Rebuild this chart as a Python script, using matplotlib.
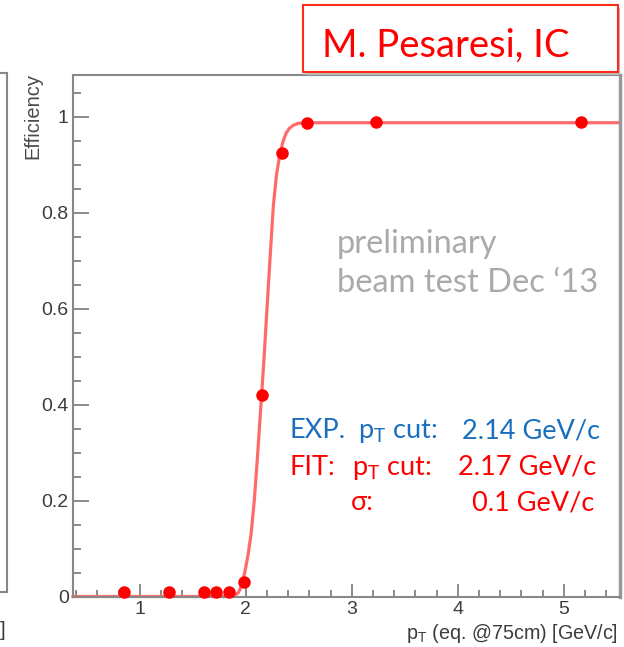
import matplotlib
matplotlib.use("Agg")
import matplotlib.pyplot as plt
from matplotlib.patches import Rectangle
from matplotlib.ticker import MultipleLocator

# ---- data ----
pt_points = [0.85, 1.28, 1.61, 1.72, 1.84, 1.98, 2.15, 2.34, 2.58, 3.23, 5.16]
eff_points = [0.01, 0.01, 0.01, 0.01, 0.01, 0.03, 0.42, 0.925, 0.988, 0.99, 0.99]

fit_x = [0.37, 1.85, 1.90, 1.93, 1.96, 1.99, 2.02, 2.05, 2.08, 2.11, 2.14, 2.17,
         2.20, 2.23, 2.26, 2.29, 2.32, 2.35, 2.38, 2.41, 2.45, 2.50, 2.58, 5.53]
fit_y = [0.0, 0.0, 0.003, 0.008, 0.022, 0.05, 0.085, 0.13, 0.20, 0.29, 0.39, 0.49,
         0.60, 0.71, 0.815, 0.88, 0.92, 0.948, 0.966, 0.976, 0.983, 0.987, 0.988, 0.988]

x_ticks = [1, 2, 3, 4, 5]
y_ticks = [0, 0.2, 0.4, 0.6, 0.8, 1]
y_tick_labels = ["0", "0.2", "0.4", "0.6", "0.8", "1"]

plt.rcParams["mathtext.fontset"] = "custom"
plt.rcParams["mathtext.rm"] = "Lato"

W, H = 624, 647
fig = plt.figure(figsize=(W / 100, H / 100), dpi=100)

def fx(px):
    return px / W

def fy(py):
    return 1 - py / H

ax = fig.add_axes([fx(73), fy(596.5), fx(620) - fx(73), fy(75) - fy(596.5)])
ax.set_xlim(0.37, 5.53)
ax.set_ylim(0, 1.0875)

ax.plot(fit_x, fit_y, color=(1.0, 0.42, 0.42), lw=2.3, zorder=2, clip_on=False,
        solid_joinstyle="round")
ax.plot(pt_points, eff_points, "o", color="#ff0000", ms=8, zorder=3, clip_on=False)

ax.set_xticks(x_ticks)
ax.set_xticklabels([str(t) for t in x_ticks])
ax.set_yticks(y_ticks)
ax.set_yticklabels(y_tick_labels)
ax.xaxis.set_minor_locator(MultipleLocator(0.2))
ax.yaxis.set_minor_locator(MultipleLocator(0.05))

tick_color = "#777777"
lab_color = "#3c3c3c"
ax.tick_params(axis="x", which="major", direction="in", length=9.5, width=1.2,
               color=tick_color, pad=3.5, labelsize=14, labelcolor=lab_color)
ax.tick_params(axis="x", which="minor", direction="in", length=5, width=1.2,
               color=tick_color)
ax.tick_params(axis="y", which="major", direction="in", length=11.5, width=1.2,
               color=tick_color, pad=3, labelsize=14, labelcolor=lab_color)
ax.tick_params(axis="y", which="minor", direction="in", length=5.8, width=1.2,
               color=tick_color)
for lab in ax.get_xticklabels() + ax.get_yticklabels():
    lab.set_family("Liberation Sans")
for s in ax.spines.values():
    s.set_color("#888888")
    s.set_linewidth(1.5)
ax.spines["right"].set_linewidth(2.5)
ax.spines["right"].set_color("#999999")

fig.text(fx(33), fy(73), "Efficiency", rotation=90, ha="center", va="top",
         family="Liberation Sans", fontsize=14.5, color="#4a4a4a")
fig.text(fx(618), fy(639), r"p$_\mathregular{T}$ (eq. @75cm) [GeV/c]", ha="right",
         va="baseline", family="Liberation Sans", fontsize=14.2, color=lab_color)

# left neighbour panel remnant
fig.patches.append(Rectangle((fx(-10), fy(592)), fx(17), fy(73) - fy(592),
                             transform=fig.transFigure, fill=False,
                             edgecolor="#888888", lw=1.5))
fig.text(fx(0), fy(636), "]", family="Liberation Sans", fontsize=14.5,
         color=lab_color, va="baseline")

# author box
fig.patches.append(Rectangle((fx(305), fy(75)), fx(315), fy(5) - fy(72),
                             transform=fig.transFigure, facecolor="#bbbbbb",
                             edgecolor="none", zorder=5))
fig.patches.append(Rectangle((fx(303), fy(72)), fx(315), fy(5) - fy(72),
                             transform=fig.transFigure, facecolor="white",
                             edgecolor="#ff2a1a", lw=1.5, zorder=6))
fig.text(fx(322), fy(57), "M. Pesaresi, IC", family="Lato", fontsize=27.5,
         color="#ff0000", va="baseline", zorder=7)

# annotations
grey = "#aaaaaa"
fig.text(fx(337), fy(253), "preliminary", family="Lato", fontsize=23.5,
         color=grey, va="baseline")
fig.text(fx(337), fy(292), "beam test Dec \u201813", family="Lato", fontsize=23.5,
         color=grey, va="baseline")

blue = "#1a6fbd"
red = "#ff0000"
fs = 19.5
fig.text(fx(289), fy(438), "EXP.", family="Lato", fontsize=fs, color=blue, va="baseline")
fig.text(fx(358), fy(438), r"p$_\mathregular{T}$ cut:", family="Lato", fontsize=fs, color=blue, va="baseline")
fig.text(fx(600), fy(438), "2.14 GeV/c", family="Lato", fontsize=fs, color=blue, va="baseline", ha="right")
fig.text(fx(289), fy(475), "FIT:", family="Lato", fontsize=fs, color=red, va="baseline")
fig.text(fx(352), fy(475), r"p$_\mathregular{T}$ cut:", family="Lato", fontsize=fs, color=red, va="baseline")
fig.text(fx(596), fy(475), "2.17 GeV/c", family="Lato", fontsize=fs, color=red, va="baseline", ha="right")
fig.text(fx(351), fy(510), "\u03c3:", family=["Lato", "DejaVu Sans"], fontsize=fs, color=red, va="baseline")
fig.text(fx(594), fy(510), "0.1 GeV/c", family="Lato", fontsize=fs, color=red, va="baseline", ha="right")

fig.savefig("out.png", dpi=100)
